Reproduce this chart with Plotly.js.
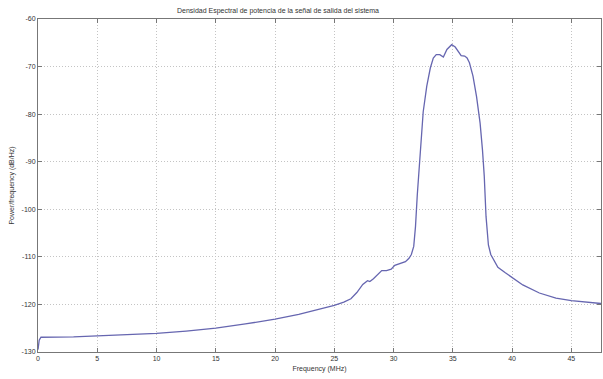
<!DOCTYPE html>
<html>
<head>
<meta charset="utf-8">
<script src="https://cdn.plot.ly/plotly-3.0.1.min.js"></script>
<style>html,body{margin:0;padding:0;background:#fff;}#chart{width:603px;height:379px;}</style>
</head>
<body>
<div id="chart"></div>
<script>
const freqMHz = [0, 0.1, 0.25, 1, 3, 5, 7.5, 10, 12.5, 15, 17.5, 20, 22, 24, 25, 25.8, 26.4, 26.9, 27.4, 27.8, 28.0, 28.3, 28.7, 29.0, 29.4, 29.8, 30.1, 30.5, 31.0, 31.3, 31.5, 31.7, 31.85, 32.0, 32.15, 32.3, 32.5, 32.8, 33.1, 33.35, 33.6, 33.9, 34.2, 34.5, 34.9, 35.2, 35.45, 35.7, 36.0, 36.2, 36.4, 36.7, 37.0, 37.3, 37.5, 37.65, 37.8, 38.0, 38.2, 38.5, 38.8, 39.4, 40.0, 40.9, 42.3, 43.7, 45.0, 46.5, 47.5];
const psdDb = [-129.5, -127.5, -126.9, -126.9, -126.8, -126.6, -126.4, -126.1, -125.6, -125.0, -124.1, -123.1, -122.1, -120.9, -120.2, -119.5, -118.8, -117.5, -115.8, -115.0, -115.2, -114.6, -113.6, -112.9, -112.9, -112.6, -111.8, -111.5, -111.0, -110.3, -109.5, -107.8, -103.6, -97, -91.5, -85.5, -79.5, -74.1, -70.3, -68.2, -67.5, -67.5, -68.0, -66.4, -65.4, -65.9, -66.8, -67.7, -67.8, -68.2, -69.2, -72.0, -76.3, -81.9, -87.5, -93, -101.5, -107.5, -109.5, -111, -112.2, -113.3, -114.3, -115.9, -117.6, -118.7, -119.2, -119.6, -119.8];
const xTickVals = [0, 5, 10, 15, 20, 25, 30, 35, 40, 45];
const xTickText = ["0", "5", "10", "15", "20", "25", "30", "35", "40", "45"];
const yTickVals = [-130, -120, -110, -100, -90, -80, -70, -60];
const yTickText = ["-130", "-120", "-110", "-100", "-90", "-80", "-70", "-60"];

const font = {family: "Liberation Sans, Arial, sans-serif", size: 7, color: "#333"};
const axisCommon = {
  showline: true, linecolor: "#777", linewidth: 1, mirror: "ticks",
  ticks: "inside", ticklen: 4, tickcolor: "#777",
  showgrid: true, gridcolor: "#c4c4c4", griddash: "1px,2px", gridwidth: 1,
  zeroline: false, tickfont: font, tickmode: "array"
};
Plotly.newPlot("chart", [{
  x: freqMHz, y: psdDb, type: "scatter", mode: "lines",
  line: {color: "#6666b0", width: 1.3}
}], {
  width: 603, height: 379,
  margin: {l: 38, r: 2, t: 19, b: 27},
  paper_bgcolor: "#fff", plot_bgcolor: "#fff",
  showlegend: false,
  title: {text: "Densidad Espectral de potencia de la señal de salida del sistema",
          font: font, x: 278/603, xref: "container", xanchor: "center", y: 1 - 11/379, yanchor: "middle"},
  xaxis: Object.assign({}, axisCommon, {range: [0, 47.5], tickvals: xTickVals, ticktext: xTickText,
          title: {text: "Frequency (MHz)", font: font, standoff: 4}}),
  yaxis: Object.assign({}, axisCommon, {range: [-130, -60], tickvals: yTickVals, ticktext: yTickText,
          title: {text: "Power/frequency (dB/Hz)", font: font, standoff: 6}})
}, {displayModeBar: false, staticPlot: true});
</script>
</body>
</html>
